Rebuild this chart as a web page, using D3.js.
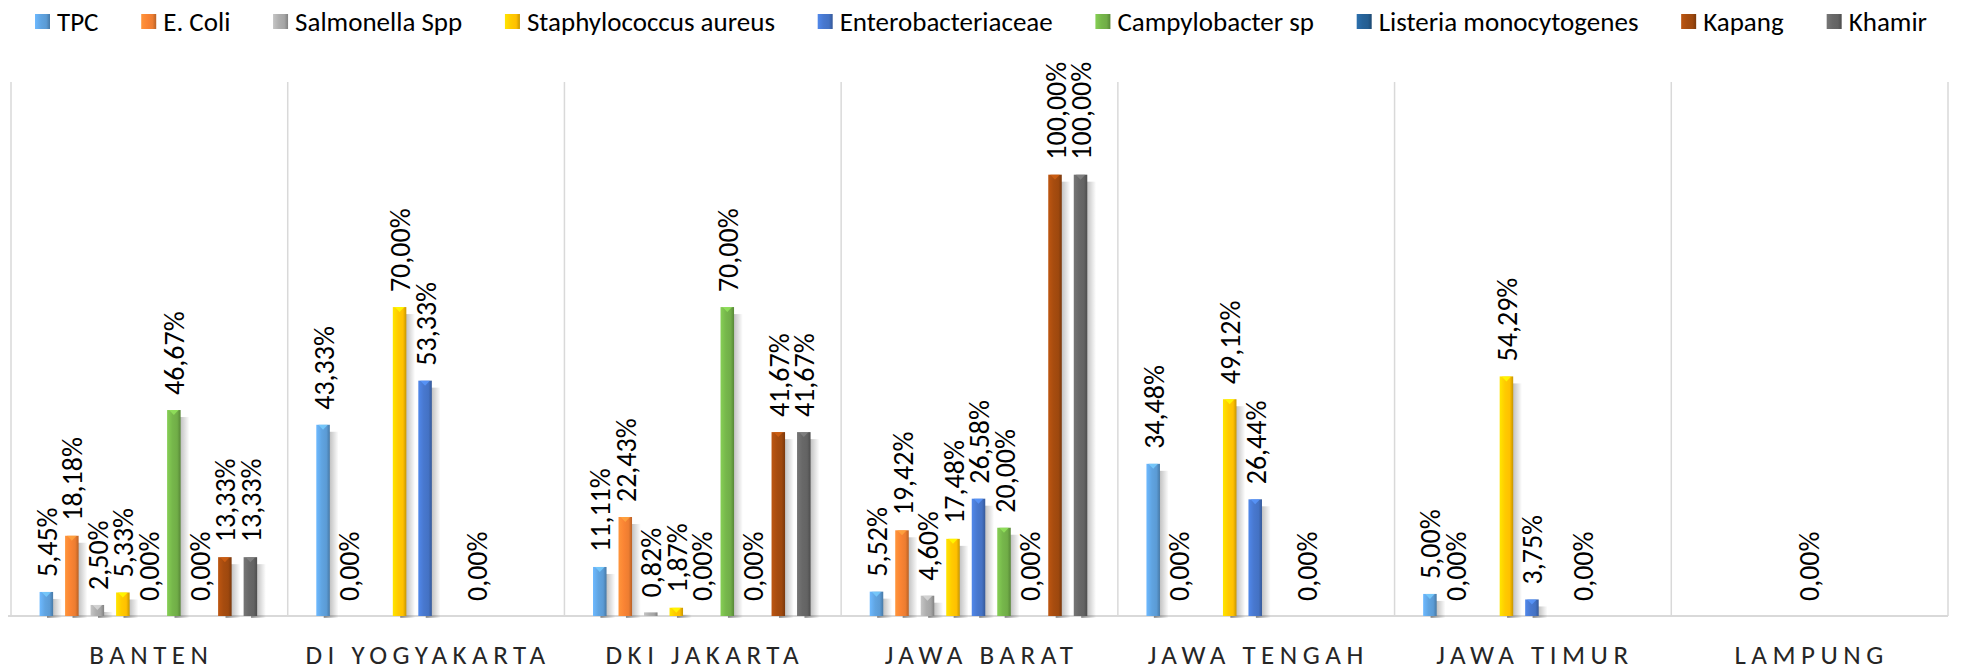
<!DOCTYPE html>
<html>
<head>
<meta charset="utf-8">
<script src="https://cdn.jsdelivr.net/npm/d3@7"></script>
<style>
  body { margin: 0; background: #fff; }
  svg { display: block; }
</style>
</head>
<body>
<svg id="chart" width="1968" height="670"></svg>
<script>
// data (null = no bar, no label)
const categories = ["BANTEN", "DI YOGYAKARTA", "DKI JAKARTA", "JAWA BARAT", "JAWA TENGAH", "JAWA TIMUR", "LAMPUNG"];
const seriesNames = ["TPC", "E. Coli", "Salmonella Spp", "Staphylococcus aureus", "Enterobacteriaceae",
  "Campylobacter sp", "Listeria monocytogenes", "Kapang", "Khamir"];

const tpc           = [5.45, 43.33, 11.11, 5.52, 34.48, 5.00, null];
const eColi         = [18.18, 0.00, 22.43, 19.42, 0.00, 0.00, null];
const salmonella    = [2.50, null, 0.82, 4.60, null, null, null];
const staph         = [5.33, 70.00, 1.87, 17.48, 49.12, 54.29, null];
const entero        = [0.00, 53.33, 0.00, 26.58, 26.44, 3.75, 0.00];
const campylobacter = [46.67, null, 70.00, 20.00, null, null, null];
const listeria      = [0.00, 0.00, 0.00, 0.00, 0.00, 0.00, null];
const kapang        = [13.33, null, 41.67, 100.00, null, null, null];
const khamir        = [13.33, null, 41.67, 100.00, null, null, null];

const seriesValues = [tpc, eColi, salmonella, staph, entero, campylobacter, listeria, kapang, khamir];
const seriesColors = ["#5B9BD5", "#ED7D31", "#A5A5A5", "#FFC000", "#4472C4", "#70AD47", "#255E91", "#9E480E", "#636363"];

const svg = d3.select("#chart");
const plotLeft = 11, plotRight = 1948, plotTop = 82, plotBottom = 616;
const font = "Calibri, Carlito, Lato, sans-serif";

const x0 = d3.scaleBand().domain(categories).range([plotLeft, plotRight]).padding(0);
const x1 = d3.scaleBand().domain(seriesNames).range([0, x0.bandwidth()])
  .paddingInner(0).paddingOuter(0.925);
const y = d3.scaleLinear().domain([0, 121]).range([plotBottom, plotTop]);

const defs = svg.append("defs");
seriesColors.forEach(function (c, i) {
  const g = defs.append("linearGradient").attr("id", "bar" + i)
    .attr("x1", "0%").attr("x2", "100%").attr("y1", "0%").attr("y2", "0%");
  g.append("stop").attr("offset", "0%").attr("stop-color", d3.color(c).brighter(0.5));
  g.append("stop").attr("offset", "40%").attr("stop-color", d3.color(c).brighter(0.15));
  g.append("stop").attr("offset", "75%").attr("stop-color", c);
  g.append("stop").attr("offset", "100%").attr("stop-color", d3.color(c).darker(0.7));
});
const sh = defs.append("linearGradient").attr("id", "shadow")
  .attr("x1", "0%").attr("x2", "100%").attr("y1", "0%").attr("y2", "0%");
sh.append("stop").attr("offset", "0%").attr("stop-color", "#000").attr("stop-opacity", 0.4);
sh.append("stop").attr("offset", "100%").attr("stop-color", "#000").attr("stop-opacity", 0);

// vertical category separators
svg.append("g").selectAll("line")
  .data(d3.range(categories.length + 1))
  .enter().append("line")
  .attr("x1", i => plotLeft + i * x0.step())
  .attr("x2", i => plotLeft + i * x0.step())
  .attr("y1", plotTop).attr("y2", plotBottom)
  .attr("stroke", "#d9d9d9").attr("stroke-width", 1.5);

// baseline
svg.append("line")
  .attr("x1", plotLeft - 3).attr("x2", plotRight)
  .attr("y1", plotBottom).attr("y2", plotBottom)
  .attr("stroke", "#d9d9d9").attr("stroke-width", 2);

// flatten to one record per bar
const bars = [];
categories.forEach(function (cat, ci) {
  seriesNames.forEach(function (s, si) {
    const v = seriesValues[si][ci];
    if (v !== null) bars.push({ cat: cat, series: s, si: si, value: v });
  });
});

const bw = x1.step() * 0.53;
const barX = d => x0(d.cat) + x1(d.series) + (x1.step() - bw) / 2 - 1;

const g = svg.append("g");
const nz = bars.filter(d => d.value > 0);

// soft shadow on the right
g.selectAll("rect.shadow")
  .data(nz.filter(d => plotBottom - y(d.value) > 4))
  .enter().append("rect").attr("class", "shadow")
  .attr("x", d => barX(d) + bw * 0.55)
  .attr("y", d => y(d.value) + 7)
  .attr("width", bw * 1.1)
  .attr("height", d => plotBottom - y(d.value) - 5)
  .attr("fill", "url(#shadow)");

g.selectAll("rect.bar")
  .data(nz)
  .enter().append("rect").attr("class", "bar")
  .attr("x", barX)
  .attr("y", d => y(d.value))
  .attr("width", bw)
  .attr("height", d => plotBottom - y(d.value))
  .attr("fill", d => "url(#bar" + d.si + ")");

// little bevel tip on top of each bar
g.selectAll("path.tip")
  .data(nz.filter(d => plotBottom - y(d.value) > 5))
  .enter().append("path").attr("class", "tip")
  .attr("d", function (d) {
    const x = barX(d), t = y(d.value);
    return "M" + (x + 2) + "," + t + "L" + (x + bw - 2) + "," + t + "L" + (x + bw / 2) + "," + (t + 5) + "Z";
  })
  .attr("fill", d => d3.color(seriesColors[d.si]).brighter(0.8))
  .attr("opacity", 0.8);

// value labels, rotated
const fmt = v => v.toFixed(2).replace(".", ",") + "%";
g.selectAll("text.val")
  .data(bars)
  .enter().append("text").attr("class", "val")
  .attr("transform", d => "translate(" + (barX(d) + bw / 2 + 1) + "," + (y(d.value) - 15) + ") rotate(-90)")
  .attr("dy", "0.34em")
  .style("font-family", font)
  .style("font-size", "28px")
  .style("fill", "#000")
  .text(d => fmt(d.value));

// category labels
svg.append("g").selectAll("text")
  .data(categories)
  .enter().append("text")
  .attr("x", d => x0(d) + x0.bandwidth() / 2 + 2)
  .attr("y", 664)
  .attr("text-anchor", "middle")
  .style("font-family", font)
  .style("font-size", "27px")
  .style("letter-spacing", "5.5px")
  .style("fill", "#262626")
  .text(d => d);

// legend, flowed left to right and spread to fill the top row
const legend = svg.append("g");
const items = legend.selectAll("g")
  .data(seriesNames)
  .enter().append("g");
items.append("rect")
  .attr("width", 15).attr("height", 15)
  .attr("y", 14)
  .attr("fill", (d, i) => "url(#bar" + i + ")");
items.append("text")
  .attr("x", 22).attr("y", 31)
  .style("font-family", font)
  .style("font-size", "27px")
  .style("fill", "#000")
  .text(d => d);

const widths = [];
items.each(function () { widths.push(this.getBBox().width); });
const legLeft = 35, legRight = 1927;
const gap = (legRight - legLeft - d3.sum(widths)) / (seriesNames.length - 1);
let cx = legLeft;
items.attr("transform", function (d, i) {
  const t = "translate(" + cx + ",0)";
  cx += widths[i] + gap;
  return t;
});
</script>
</body>
</html>
